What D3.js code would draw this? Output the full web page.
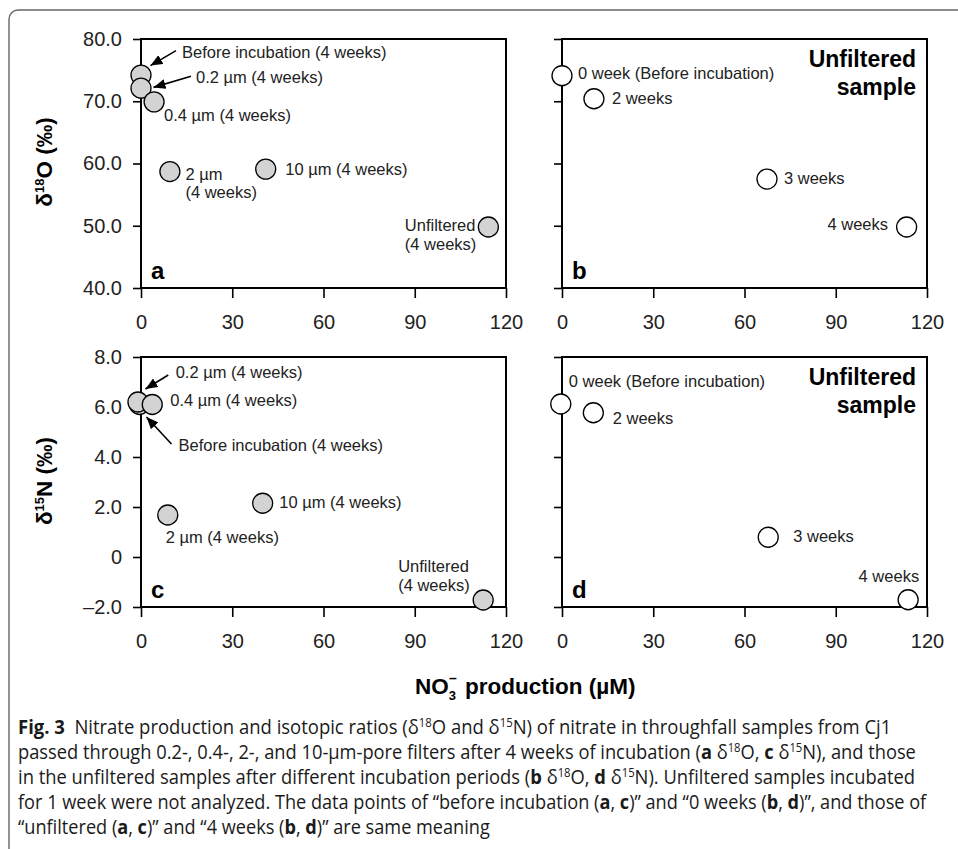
<!DOCTYPE html>
<html>
<head>
<meta charset="utf-8">
<script src="https://cdn.jsdelivr.net/npm/d3@7"></script>
<style>
  body { margin: 0; background: #fff; }
  svg { display: block; }
</style>
</head>
<body>
<script>
// tick values + labels
var xTicks = [0, 30, 60, 90, 120];
var oTicks = [40, 50, 60, 70, 80];
var oTickLabels = ["40.0", "50.0", "60.0", "70.0", "80.0"];
var nTicks = [-2, 0, 2, 4, 6, 8];
var nTickLabels = ["\u20132.0", "0", "2.0", "4.0", "6.0", "8.0"];

// filter experiment (panels a, c), 4 weeks
var filterNames = ["Before incubation", "0.2 \u00b5m", "0.4 \u00b5m", "2 \u00b5m", "10 \u00b5m", "Unfiltered"];
var filterNO3a = [0, 0, 4.3, 9.5, 41.0, 114.2];
var filterO18 = [74.2, 72.1, 69.9, 58.7, 59.1, 49.8];
var filterNO3c = [-0.5, -1.0, 3.7, 8.8, 40.0, 112.5];
var filterN15 = [6.1, 6.2, 6.1, 1.68, 2.15, -1.72];

// unfiltered samples by incubation period (panels b, d)
var weekNames = ["0 week (Before incubation)", "2 weeks", "3 weeks", "4 weeks"];
var weekNO3b = [0, 10.5, 67.4, 113.3];
var weekO18 = [74.1, 70.4, 57.5, 49.8];
var weekNO3d = [-0.4, 10.3, 67.8, 113.8];
var weekN15 = [6.12, 5.77, 0.79, -1.71];

var width = 958, height = 849;
var font = "'Liberation Sans', Arial, Helvetica, sans-serif";

var svg = d3.select("body").append("svg")
    .attr("width", width)
    .attr("height", height)
    .style("font-family", font);

// outer figure frame
svg.append("rect")
    .attr("x", 9).attr("y", 10)
    .attr("width", 990).attr("height", 860)
    .attr("rx", 9)
    .attr("fill", "none")
    .attr("stroke", "#666")
    .attr("stroke-width", 1.4);

var defs = svg.append("defs");
defs.append("marker")
    .attr("id", "arrow")
    .attr("viewBox", "0 0 12 10")
    .attr("refX", 12).attr("refY", 5)
    .attr("markerWidth", 12).attr("markerHeight", 10)
    .attr("markerUnits", "userSpaceOnUse")
    .attr("orient", "auto")
  .append("path")
    .attr("d", "M0,0 L12,5 L0,10 Z")
    .attr("fill", "#000");

// panel boxes
var panels = {
  a: { x0: 141, x1: 506, y0: 39, y1: 288 },
  b: { x0: 562, x1: 927, y0: 39, y1: 288 },
  c: { x0: 141, x1: 506, y0: 357, y1: 607 },
  d: { x0: 562, x1: 927, y0: 357, y1: 607 }
};

function drawPanel(p, yDomain, yTicks, yLabels, showYLabels) {
  var x = d3.scaleLinear().domain([0, 120]).range([p.x0, p.x1]);
  var y = d3.scaleLinear().domain(yDomain).range([p.y1, p.y0]);
  var g = svg.append("g");

  var yAxis = d3.axisLeft(y)
      .tickValues(yTicks)
      .tickSize(8)
      .tickSizeOuter(0)
      .tickPadding(11)
      .tickFormat(function(d, i) { return showYLabels ? yLabels[i] : ""; });
  var xAxis = d3.axisBottom(x)
      .tickValues(xTicks)
      .tickSize(10)
      .tickSizeOuter(0)
      .tickPadding(17)
      .tickFormat(d3.format("d"));

  var ya = g.append("g").attr("transform", "translate(" + p.x0 + ",0)").call(yAxis);
  var xa = g.append("g").attr("transform", "translate(0," + p.y1 + ")").call(xAxis);
  [ya, xa].forEach(function(a) {
    a.select(".domain").remove();
    a.selectAll("line").attr("stroke", "#000").attr("stroke-width", 1.6);
    a.selectAll("text").attr("fill", "#222").style("font-size", "20px").style("font-family", font);
  });

  g.append("rect")
      .attr("x", p.x0).attr("y", p.y0)
      .attr("width", p.x1 - p.x0).attr("height", p.y1 - p.y0)
      .attr("fill", "none").attr("stroke", "#000").attr("stroke-width", 2);

  return { g: g, x: x, y: y };
}

var pa = drawPanel(panels.a, [40, 80], oTicks, oTickLabels, true);
var pb = drawPanel(panels.b, [40, 80], oTicks, oTickLabels, false);
var pc = drawPanel(panels.c, [-2, 8], nTicks, nTickLabels, true);
var pd = drawPanel(panels.d, [-2, 8], nTicks, nTickLabels, false);

function plotPoints(P, xs, ys, fill) {
  P.g.selectAll("circle.pt")
    .data(xs.map(function(v, i) { return [v, ys[i]]; }))
    .enter().append("circle")
      .attr("class", "pt")
      .attr("cx", function(d) { return P.x(d[0]); })
      .attr("cy", function(d) { return P.y(d[1]); })
      .attr("r", 10)
      .attr("fill", fill)
      .attr("stroke", "#000")
      .attr("stroke-width", 1.3);
}

// label layout: offsets from the point in px; lines = list of text lines
function labelPoints(P, xs, ys, layout) {
  layout.forEach(function(L) {
    var px = P.x(xs[L.i]), py = P.y(ys[L.i]);
    var t = P.g.append("text")
        .attr("x", px + L.dx).attr("y", py + L.dy)
        .attr("text-anchor", L.anchor || "start")
        .attr("fill", "#222")
        .style("font-size", "16.5px");
    L.lines.forEach(function(s, k) {
      t.append("tspan")
          .attr("x", px + L.dx)
          .attr("dy", k === 0 ? 0 : (L.lh || 18.5))
          .text(s);
    });
    if (L.arrow) {
      P.g.append("line")
          .attr("x1", px + L.arrow[0]).attr("y1", py + L.arrow[1])
          .attr("x2", px + L.arrow[2]).attr("y2", py + L.arrow[3])
          .attr("stroke", "#000").attr("stroke-width", 1.6)
          .attr("marker-end", "url(#arrow)");
    }
  });
}

plotPoints(pa, filterNO3a, filterO18, "#d3d3d3");
labelPoints(pa, filterNO3a, filterO18, [
  { i: 0, dx: 41, dy: -17, lines: [filterNames[0] + " (4 weeks)"], arrow: [35, -24.5, 9.5, -9.5] },
  { i: 1, dx: 55, dy: -5.5, lines: [filterNames[1] + " (4 weeks)"], arrow: [50, -12, 12.5, -0.8] },
  { i: 2, dx: 10, dy: 19, lines: [filterNames[2] + " (4 weeks)"] },
  { i: 3, dx: 15.5, dy: 8.3, lines: [filterNames[3], "(4 weeks)"] },
  { i: 4, dx: 19.5, dy: 6, lines: [filterNames[4] + " (4 weeks)"] },
  { i: 5, dx: -83.5, dy: 4.4, lines: [filterNames[5], "(4 weeks)"] }
]);

plotPoints(pb, weekNO3b, weekO18, "#fff");
labelPoints(pb, weekNO3b, weekO18, [
  { i: 0, dx: 16, dy: 3.5, lines: [weekNames[0]] },
  { i: 1, dx: 18, dy: 5, lines: [weekNames[1]] },
  { i: 2, dx: 17, dy: 5, lines: [weekNames[2]] },
  { i: 3, dx: -18.6, dy: 3.5, anchor: "end", lines: [weekNames[3]] }
]);

plotPoints(pc, filterNO3c, filterN15, "#d3d3d3");
labelPoints(pc, filterNO3c, filterN15, [
  { i: 0, dx: 39, dy: 46, lines: [filterNames[0] + " (4 weeks)"], arrow: [32, 39.5, 7, 12.5] },
  { i: 1, dx: 37.7, dy: -23.7, lines: [filterNames[1] + " (4 weeks)"], arrow: [30.3, -27, 7.5, -13] },
  { i: 2, dx: 18, dy: 1.5, lines: [filterNames[2] + " (4 weeks)"] },
  { i: 3, dx: -2, dy: 28, lines: [filterNames[3] + " (4 weeks)"] },
  { i: 4, dx: 16.6, dy: 4.7, lines: [filterNames[4] + " (4 weeks)"] },
  { i: 5, dx: -85, dy: -28, lines: [filterNames[5], "(4 weeks)"] }
]);

plotPoints(pd, weekNO3d, weekN15, "#fff");
labelPoints(pd, weekNO3d, weekN15, [
  { i: 0, dx: 8, dy: -17, lines: [weekNames[0]] },
  { i: 1, dx: 19.4, dy: 11.6, lines: [weekNames[1]] },
  { i: 2, dx: 25, dy: 4.4, lines: [weekNames[2]] },
  { i: 3, dx: 11, dy: -18, anchor: "end", lines: [weekNames[3]] }
]);

// panel letters
[["a", panels.a], ["b", panels.b], ["c", panels.c], ["d", panels.d]].forEach(function(e) {
  svg.append("text")
      .attr("x", e[1].x0 + 10).attr("y", e[1].y1 - 9)
      .style("font-size", "24px").style("font-weight", "bold")
      .text(e[0]);
});

// "Unfiltered sample" tags
[panels.b, panels.d].forEach(function(p) {
  var t = svg.append("text")
      .attr("text-anchor", "end")
      .style("font-size", "23px").style("font-weight", "bold");
  t.append("tspan").attr("x", p.x1 - 11).attr("y", p.y0 + 28).text("Unfiltered");
  t.append("tspan").attr("x", p.x1 - 11).attr("y", p.y0 + 56).text("sample");
});

// y axis titles
function yTitle(cy, sup, el) {
  var t = svg.append("text")
      .attr("transform", "translate(52," + cy + ") rotate(-90)")
      .attr("text-anchor", "middle")
      .style("font-size", "22.5px").style("font-weight", "bold");
  t.append("tspan").text("\u03b4");
  t.append("tspan").attr("dy", -8).style("font-size", "13px").text(sup);
  t.append("tspan").attr("dy", 8).text(el + " (\u2030)");
}
yTitle(162, "18", "O");
yTitle(481, "15", "N");

// x axis title
var xt = svg.append("text")
    .attr("x", 415).attr("y", 694)
    .style("font-size", "22.5px").style("font-weight", "bold");
xt.append("tspan").text("NO");
xt.append("tspan").attr("dy", 6).style("font-size", "13px").text("3");
xt.append("tspan").attr("x", 449).attr("dy", -17).style("font-size", "14px").text("\u2013");
xt.append("tspan").attr("x", 465).attr("dy", 11).text("production (\u00b5M)");

// caption
var caption = [
  [["Fig. 3", "b"], ["  Nitrate production and isotopic ratios (\u03b4"], ["18", "s"], ["O and \u03b4"], ["15", "s"], ["N) of nitrate in throughfall samples from Cj1"]],
  [["passed through 0.2-, 0.4-, 2-, and 10-\u00b5m-pore filters after 4 weeks of incubation ("], ["a", "b"], [" \u03b4"], ["18", "s"], ["O, "], ["c", "b"], [" \u03b4"], ["15", "s"], ["N), and those"]],
  [["in the unfiltered samples after different incubation periods ("], ["b", "b"], [" \u03b4"], ["18", "s"], ["O, "], ["d", "b"], [" \u03b4"], ["15", "s"], ["N). Unfiltered samples incubated"]],
  [["for 1 week were not analyzed. The data points of \u201cbefore incubation ("], ["a", "b"], [", "], ["c", "b"], [")\u201d and \u201c0 weeks ("], ["b", "b"], [", "], ["d", "b"], [")\u201d, and those of"]],
  [["\u201cunfiltered ("], ["a", "b"], [", "], ["c", "b"], [")\u201d and \u201c4 weeks ("], ["b", "b"], [", "], ["d", "b"], [")\u201d are same meaning"]]
];
var captionEnds = [891.7, 916.7, 915.7, 926.7, 490];

caption.forEach(function(line, li) {
  var y0 = 733.5 + li * 25;
  var t = svg.append("text")
      .attr("x", 0).attr("y", 0)
      .attr("fill", "#1a1a1a")
      .style("font-family", "'Open Sans', 'Noto Sans', sans-serif")
      .style("font-size", "19.5px")
      .attr("xml:space", "preserve")
      .style("white-space", "pre");
  var shifted = false;
  line.forEach(function(seg) {
    var ts = t.append("tspan").text(seg[0]);
    if (seg[1] === "b") ts.style("font-weight", "bold");
    if (seg[1] === "s") { ts.attr("dy", -7).style("font-size", "12px"); shifted = true; }
    else if (shifted) { ts.attr("dy", 7); shifted = false; }
  });
  var w = t.node().getComputedTextLength();
  var sx = (captionEnds[li] - 18) / w;
  t.attr("transform", "translate(18," + y0 + ") scale(" + sx + ",1)");
});
</script>
</body>
</html>
